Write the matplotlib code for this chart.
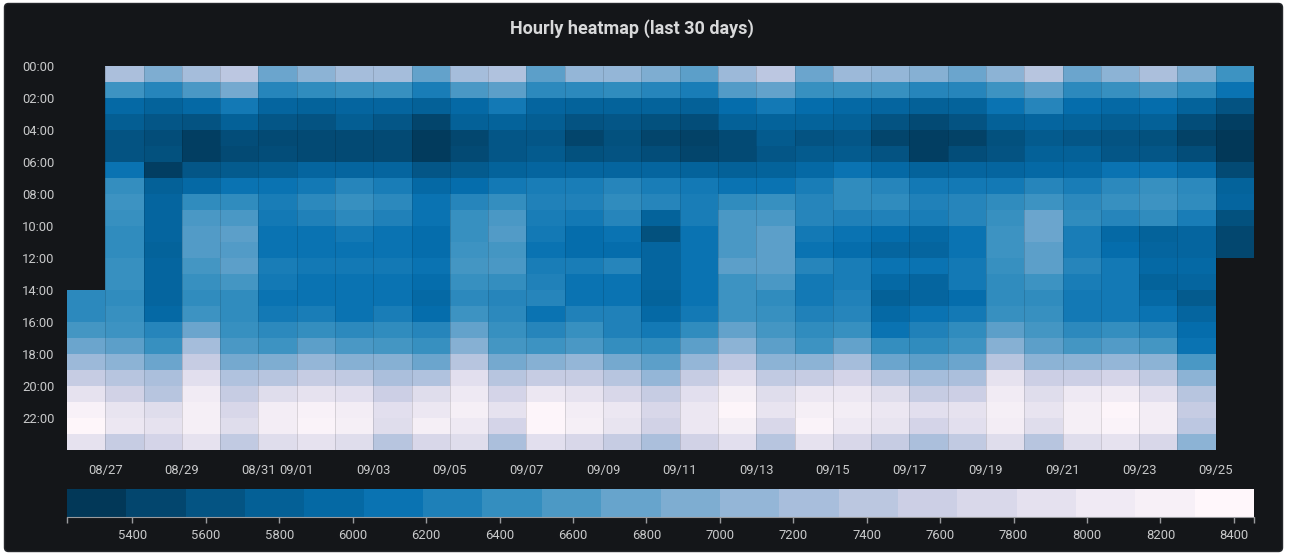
import numpy as np
import pandas as pd
import matplotlib
matplotlib.use('Agg')
import matplotlib.pyplot as plt
from matplotlib.patches import FancyBboxPatch

plt.rcParams['font.family'] = ['Roboto', 'DejaVu Sans']

# days shown (first one starts at 14:00, last one stops at 12:00)
days = pd.date_range('2021-08-26', periods=31).strftime('%m/%d').tolist()
hours = ['%02d:00' % h for h in range(24)]
tick_days = ['08/27', '08/29', '08/31', '09/01', '09/03', '09/05', '09/07', '09/09',
             '09/11', '09/13', '09/15', '09/17', '09/19', '09/21', '09/23', '09/25']
cbar_ticks = list(range(5400, 8401, 200))
vmin, vmax = 5222, 8455

n = np.nan
# one list per hour, one value per day
h00 = [n, 7290, 6920, 7230, 7450, 6780, 7040, 7230, 7230, 6730, 7230, 7340, 6680, 7100, 7100, 6920, 6680, 7160, 7450, 6780, 7160, 7100, 6980, 6780, 7040, 7400, 6780, 7040, 7290, 6920, 6480]
h01 = [n, 6480, 6300, 6570, 6850, 6300, 6390, 6440, 6440, 6200, 6570, 6680, 6350, 6350, 6390, 6300, 6200, 6620, 6730, 6440, 6440, 6440, 6300, 6300, 6480, 6680, 6350, 6440, 6570, 6390, 6080]
h02 = [n, 5910, 5800, 5910, 6150, 5840, 5800, 5840, 5840, 5760, 5910, 6150, 5840, 5800, 5800, 5800, 5760, 5980, 6150, 5980, 5910, 5840, 5760, 5800, 6080, 6300, 5980, 5910, 5980, 5800, 5550]
h03 = [n, 5700, 5580, 5550, 5760, 5580, 5550, 5700, 5580, 5380, 5760, 5800, 5700, 5550, 5580, 5520, 5480, 5760, 5800, 5800, 5760, 5550, 5440, 5550, 5760, 5840, 5800, 5700, 5760, 5480, 5300]
h04 = [n, 5550, 5480, 5300, 5480, 5440, 5440, 5440, 5440, 5260, 5410, 5580, 5580, 5380, 5520, 5380, 5340, 5440, 5640, 5550, 5580, 5380, 5300, 5340, 5520, 5640, 5580, 5550, 5520, 5340, 5230]
h05 = [n, 5550, 5520, 5300, 5440, 5480, 5440, 5440, 5440, 5260, 5440, 5580, 5640, 5520, 5550, 5480, 5380, 5440, 5580, 5640, 5640, 5550, 5300, 5480, 5550, 5760, 5760, 5580, 5580, 5480, 5230]
h06 = [n, 6080, 5300, 5580, 5640, 5700, 5840, 5840, 5840, 5580, 5640, 5800, 5840, 5840, 5840, 5840, 5800, 5760, 5800, 5910, 6080, 5910, 5800, 5840, 5840, 5910, 5910, 6080, 6080, 5910, 5440]
h07 = [n, 6420, 5760, 5910, 6080, 6080, 6150, 6300, 6200, 5910, 5980, 6150, 6200, 6200, 6300, 6200, 6150, 6080, 6080, 6200, 6390, 6300, 6150, 6150, 6150, 6300, 6200, 6350, 6440, 6350, 5800]
h08 = [n, 6480, 5840, 6390, 6390, 6200, 6350, 6440, 6350, 6080, 6300, 6420, 6250, 6250, 6390, 6300, 6200, 6390, 6440, 6300, 6390, 6390, 6250, 6300, 6390, 6480, 6350, 6440, 6480, 6390, 5840]
h09 = [n, 6440, 5840, 6570, 6570, 6150, 6250, 6350, 6250, 6080, 6440, 6570, 6200, 6150, 6300, 5800, 6200, 6570, 6570, 6300, 6250, 6250, 6200, 6300, 6440, 6780, 6390, 6300, 6390, 6200, 5520]
h10 = [n, 6390, 5840, 6620, 6680, 6080, 6080, 6150, 6080, 5980, 6440, 6620, 6150, 5980, 6080, 5520, 6080, 6570, 6680, 6150, 6080, 5980, 5910, 6080, 6480, 6780, 6200, 5910, 5800, 5840, 5410]
h11 = [n, 6390, 5800, 6620, 6620, 6080, 6080, 6080, 6080, 5980, 6480, 6530, 6080, 5980, 5980, 5840, 6080, 6570, 6680, 6080, 5980, 5840, 5840, 6080, 6480, 6680, 6200, 5980, 5840, 5840, 5410]
h12 = [n, 6440, 5840, 6530, 6680, 6200, 6150, 6150, 6150, 6080, 6530, 6570, 6200, 6200, 6300, 5840, 6080, 6680, 6680, 6300, 6200, 6080, 6080, 6150, 6440, 6680, 6300, 6150, 5910, 5910, n]
h13 = [n, 6440, 5840, 6440, 6530, 6150, 6080, 6080, 6080, 5980, 6440, 6420, 6250, 6080, 6080, 5840, 6080, 6480, 6570, 6150, 6200, 5910, 5840, 6150, 6390, 6480, 6200, 6150, 5800, 5840, n]
h14 = [6350, 6390, 5840, 6390, 6390, 6080, 6080, 6080, 6080, 5910, 6350, 6300, 6300, 6080, 6080, 5800, 6080, 6480, 6390, 6150, 6250, 5760, 5840, 5980, 6390, 6390, 6150, 6150, 5910, 5640, n]
h15 = [6350, 6440, 5910, 6480, 6390, 6150, 6200, 6080, 6200, 5980, 6480, 6350, 6080, 6250, 6250, 5910, 6150, 6480, 6440, 6250, 6300, 5910, 6080, 6150, 6440, 6440, 6150, 6150, 6080, 5840, n]
h16 = [6530, 6480, 6300, 6780, 6440, 6350, 6420, 6350, 6390, 6300, 6730, 6440, 6300, 6440, 6250, 6150, 6390, 6730, 6530, 6390, 6440, 6080, 6250, 6390, 6680, 6530, 6350, 6420, 6300, 5980, n]
h17 = [6780, 6680, 6440, 7230, 6570, 6480, 6680, 6570, 6530, 6440, 6980, 6530, 6480, 6570, 6420, 6390, 6680, 7040, 6680, 6480, 6730, 6420, 6390, 6480, 6980, 6680, 6530, 6620, 6530, 6080, n]
h18 = [7160, 7040, 6780, 7550, 6850, 6920, 7100, 6980, 6980, 6780, 7400, 6850, 6980, 7100, 6850, 6680, 7100, 7450, 7040, 7040, 7230, 6780, 6680, 6780, 7400, 7040, 7040, 7100, 7040, 6570, n]
h19 = [7550, 7400, 7290, 7900, 7340, 7400, 7550, 7500, 7290, 7340, 7900, 7400, 7550, 7550, 7400, 7100, 7550, 7900, 7500, 7550, 7700, 7400, 7230, 7290, 7950, 7600, 7600, 7700, 7500, 7040, n]
h20 = [7950, 7650, 7400, 8150, 7550, 7850, 7950, 7900, 7600, 7850, 8100, 7700, 8050, 7950, 7750, 7550, 7900, 8250, 7850, 8050, 8050, 7850, 7550, 7600, 8150, 7850, 8100, 8150, 7900, 7400, n]
h21 = [8300, 8000, 7850, 8250, 7750, 8200, 8300, 8200, 7900, 8050, 8250, 7950, 8400, 8200, 8050, 7750, 8050, 8400, 8000, 8250, 8200, 8050, 7900, 7950, 8250, 8000, 8250, 8400, 8200, 7550, n]
h22 = [8420, 8050, 7950, 8250, 7850, 8200, 8350, 8250, 7850, 8250, 8100, 7700, 8400, 8250, 8000, 7650, 8050, 8250, 7750, 8350, 8100, 8000, 7700, 7900, 8200, 7850, 8250, 8350, 8200, 7450, n]
h23 = [7950, 7550, 7700, 7950, 7500, 7850, 7950, 7850, 7400, 7750, 7850, 7290, 7900, 7750, 7550, 7290, 7650, 7900, 7400, 7950, 7750, 7550, 7290, 7500, 7850, 7400, 7850, 7950, 7750, 7040, n]

Z = np.array([h00, h01, h02, h03, h04, h05, h06, h07, h08, h09, h10, h11,
              h12, h13, h14, h15, h16, h17, h18, h19, h20, h21, h22, h23], dtype=float)
Z = np.ma.masked_invalid(Z)

W, H = 1289, 555
fig = plt.figure(figsize=(W / 100, H / 100), dpi=100, facecolor='white')
panel = FancyBboxPatch((0.045, 0.035), 12.78, 5.48, boxstyle='round,pad=0,rounding_size=0.04',
                       transform=fig.dpi_scale_trans, facecolor='#141619',
                       edgecolor='#25272b', linewidth=1, zorder=-10)
fig.patches.append(panel)

txt = '#c8c9ca'
fig.text(632 / W, 1 - 29 / H, 'Hourly heatmap (last 30 days)', ha='center', va='center',
         color='#d8d9da', fontsize=13, fontweight='bold')

cmap = plt.get_cmap('PuBu_r')

# heatmap
ax = fig.add_axes([67 / W, 1 - 450 / H, 1187 / W, 384 / H])
ax.patch.set_alpha(0)
ax.pcolormesh(np.arange(len(days) + 1), np.arange(25), Z, cmap=cmap, vmin=vmin, vmax=vmax)
ax.vlines(np.arange(1, len(days)), 0, 24, colors=(0, 0, 0, 0.15), linewidth=0.6)
ax.set_xlim(0, len(days))
ax.set_ylim(24, 0)
ax.set_yticks(range(0, 24, 2))
ax.set_yticklabels(hours[::2])
ax.set_xticks([days.index(d) for d in tick_days])
ax.set_xticklabels(tick_days)
ax.tick_params(axis='y', length=0, pad=9, colors=txt, labelsize=9.4)
ax.tick_params(axis='x', length=0, pad=10, colors=txt, labelsize=9.4)
for s in ax.spines.values():
    s.set_visible(False)

# legend bar
cax = fig.add_axes([67 / W, 1 - 517 / H, 1187 / W, 28 / H])
cax.patch.set_alpha(0)
edges = np.linspace(vmin, vmax, 21)
cax.pcolormesh(edges, [0, 1], np.linspace(vmin, vmax, 20)[None, :], cmap=cmap, vmin=vmin, vmax=vmax)
cax.set_xlim(vmin, vmax)
cax.set_ylim(0, 1)
cax.set_yticks([])
cax.set_xticks(cbar_ticks)
cax.set_xticks([vmin, vmax], minor=True)
cax.tick_params(axis='x', which='both', length=4.5, width=1, color='#9a9b9e', labelcolor=txt,
                labelsize=9.4, pad=4)
for k in ['top', 'left', 'right']:
    cax.spines[k].set_visible(False)
cax.spines['bottom'].set_color('#9a9b9e')

fig.savefig('out.png', dpi=100, facecolor=fig.get_facecolor())
